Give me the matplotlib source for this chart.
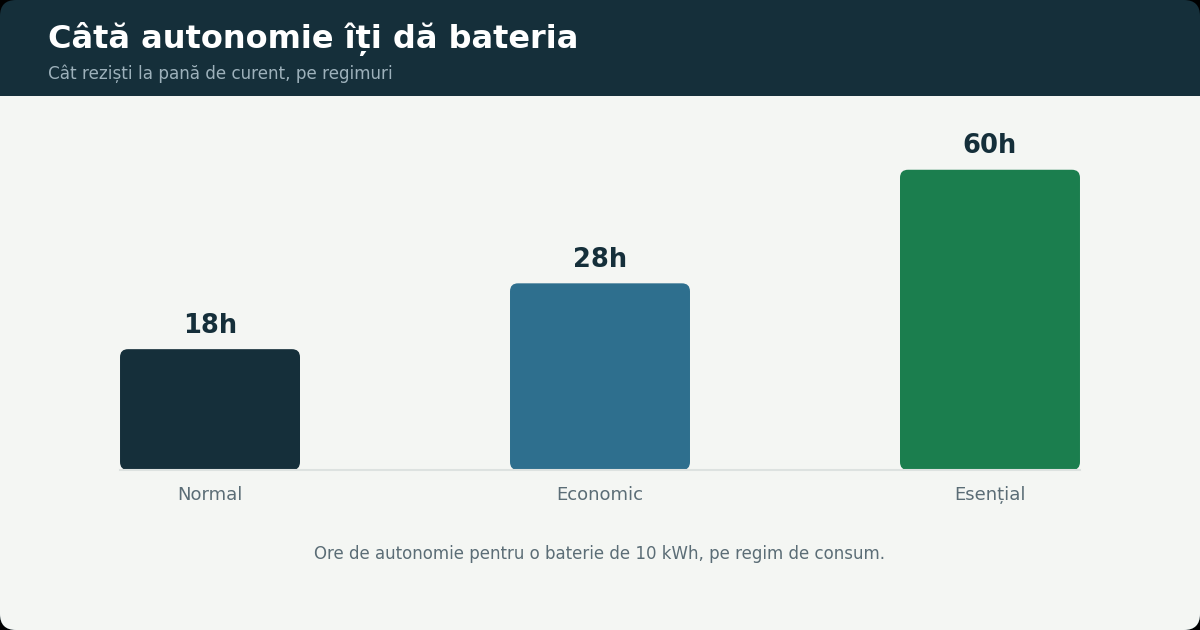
import matplotlib.pyplot as plt
from matplotlib.patches import FancyBboxPatch, Rectangle
from matplotlib.transforms import IdentityTransform

# data
regimuri = ["Normal", "Economic", "Esențial"]
ore = [18, 28, 60]
culori = ["#152f3a", "#2e6f8e", "#1b7e4e"]

titlu = "Câtă autonomie îți dă bateria"
subtitlu = "Cât reziști la pană de curent, pe regimuri"
nota = "Ore de autonomie pentru o baterie de 10 kWh, pe regim de consum."

W, H = 1200, 630
fig = plt.figure(figsize=(12, 6.3), dpi=100, facecolor="black")

# card background + header band (figure pixel coords)
px = IdentityTransform()
fig.patches.append(FancyBboxPatch((0, 0), W, H, boxstyle="round,pad=0,rounding_size=16",
                                  transform=px, fc="#152f3a", ec="none", figure=fig,
                                  zorder=-3))
fig.patches.append(FancyBboxPatch((0, 0), W, H - 96, boxstyle="round,pad=0,rounding_size=16",
                                  transform=px, fc="#f4f6f3", ec="none", figure=fig,
                                  zorder=-2))
fig.patches.append(Rectangle((0, 16), W, H - 96 - 16, transform=px, fc="#f4f6f3",
                             ec="none", figure=fig, zorder=-2))

fig.text(48 / W, 1 - 39 / H, titlu, color="white", fontsize=23, fontweight="bold",
         va="center", ha="left")
fig.text(48 / W, 1 - 74 / H, subtitlu, color="#9db1bb", fontsize=12.1,
         va="center", ha="left")
fig.text(0.5, 1 - 554 / H, nota, color="#5b6d76", fontsize=12, va="center", ha="center")

ax = fig.add_axes([0.1, (H - 470) / H, 0.8, 360 / H])
ax.set_facecolor("none")
x = range(len(regimuri))
bars = ax.bar(x, ore, width=0.4615, color="none")
ax.set_yscale("log")
ax.set_ylim(8.0, 89.6)
ax.set_xlim(-0.2308, 2.2308)
for s in ["top", "right", "left"]:
    ax.spines[s].set_visible(False)
ax.spines["bottom"].set_color("#dde2e0")
ax.spines["bottom"].set_linewidth(1.5)
ax.set_yticks([])
ax.minorticks_off()
ax.set_xticks(list(x))
ax.set_xticklabels(regimuri, fontsize=13, color="#5b6d76")
ax.tick_params(axis="x", length=0, pad=11.5)

fig.canvas.draw()
y0 = ax.get_window_extent().y0
for b, c, v in zip(bars, culori, ore):
    bb = b.get_window_extent()
    fig.patches.append(FancyBboxPatch((bb.x0, y0), bb.width, bb.y1 - y0,
                                      boxstyle="round,pad=0,rounding_size=8",
                                      transform=px, fc=c, ec="none", figure=fig,
                                      zorder=-1))
    ax.annotate(f"{v}h", (b.get_x() + b.get_width() / 2, v), xytext=(0, 17),
                textcoords="offset points", ha="center", va="center",
                fontsize=18.5, fontweight="bold", color="#152f3a")

fig.savefig("out.png", dpi=100, facecolor="black")
